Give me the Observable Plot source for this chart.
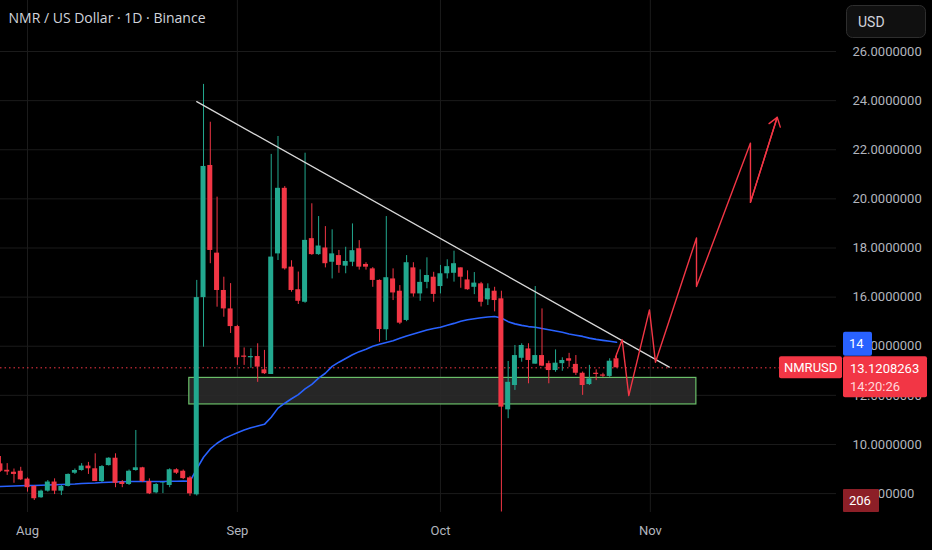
<!DOCTYPE html>
<html>
<head>
<meta charset="utf-8">
<script src="https://cdn.jsdelivr.net/npm/d3@7"></script>
<script src="https://cdn.jsdelivr.net/npm/@observablehq/plot@0.6"></script>
<style>
  html, body { margin: 0; padding: 0; background: #000; }
  #chart { width: 932px; height: 550px; overflow: hidden; }
</style>
</head>
<body>
<div id="chart"></div>
<script>
// ---- data (daily candles starting Jul 28) ----
const firstDay = "2024-07-28";
const opens = [9.21,8.95,8.87,8.91,8.59,8.29,7.83,8.10,8.47,8.10,
8.29,8.83,8.94,9.12,9.01,8.49,9.14,9.44,8.47,8.37,
8.94,9.05,8.49,8.03,8.41,8.33,8.97,8.91,8.64,7.95,
15.98,21.36,17.79,16.27,15.52,14.80,13.60,13.53,13.58,13.04,
12.85,17.76,20.43,17.22,16.30,15.79,18.38,17.73,18.00,17.42,
17.69,17.26,17.42,17.97,17.33,17.15,16.68,14.67,16.74,16.24,
15.05,17.19,16.13,16.60,16.81,16.43,16.95,16.97,17.19,16.70,
16.40,16.54,15.89,16.24,15.93,11.41,12.40,13.51,13.89,13.27,
13.62,13.29,13.01,13.29,13.49,13.26,12.90,12.44,12.90,12.83,
12.77,13.49];
const highs = [9.51,9.22,9.00,9.07,8.64,8.33,8.14,8.53,8.60,8.33,
8.80,9.00,9.22,9.27,9.62,9.14,9.46,9.62,8.53,8.96,
10.57,9.07,8.60,8.41,8.45,9.01,9.01,8.96,8.70,16.68,
24.66,23.12,20.07,16.81,16.55,14.85,13.93,13.90,14.10,13.83,
21.81,22.54,20.50,17.48,17.02,21.86,19.80,19.28,18.87,18.74,
17.90,18.03,18.98,18.30,17.40,17.20,16.70,19.28,17.15,16.47,
17.69,17.40,17.11,17.60,17.01,17.29,17.52,17.87,17.19,17.07,
17.00,16.60,16.54,16.40,16.24,13.38,14.03,14.10,14.10,16.43,
15.52,13.39,13.85,13.53,13.71,13.62,12.95,13.22,13.04,12.90,
13.49,13.69];
const lows = [8.87,8.74,8.42,8.53,8.06,7.72,7.81,8.06,7.96,7.92,
8.27,8.78,8.91,8.78,8.49,8.45,9.12,8.24,8.24,8.33,
8.91,8.45,7.96,7.99,8.00,8.24,8.78,8.57,7.89,7.90,
13.96,17.36,15.59,15.18,14.52,13.22,13.22,13.10,12.53,12.85,
12.85,17.49,17.10,16.20,15.70,15.75,17.70,17.70,17.19,16.74,
16.97,16.95,17.24,17.10,17.10,16.40,14.16,14.23,15.86,14.88,
15.00,16.00,15.83,16.34,15.79,16.13,16.74,16.61,16.36,16.28,
16.10,15.60,15.66,15.40,7.25,11.05,12.20,13.35,12.47,13.27,
13.17,12.47,12.94,12.98,13.14,12.81,12.00,12.40,12.60,12.73,
12.73,13.12];
const closes = [8.91,8.88,8.78,8.56,8.24,7.79,8.10,8.47,8.10,8.29,
8.78,8.94,9.12,9.01,8.49,9.10,9.44,8.42,8.37,8.91,
9.05,8.49,7.99,8.37,8.43,8.97,8.83,8.61,7.99,15.98,
21.32,17.90,16.27,15.52,14.80,13.53,13.55,13.58,13.15,12.88,
17.63,20.43,17.15,16.27,15.83,18.31,17.73,18.08,17.36,17.76,
17.29,17.45,17.89,17.22,17.22,16.68,14.68,16.79,16.17,14.94,
17.40,16.13,16.60,16.88,16.11,16.95,17.24,17.36,16.81,16.30,
16.57,15.79,16.34,15.86,11.52,12.53,13.62,14.03,13.42,13.62,
13.19,13.01,13.31,13.42,13.39,12.90,12.40,12.67,12.85,12.78,
13.39,13.1208263];
const maValues = [8.29,8.30,8.31,8.32,8.33,8.33,8.34,8.35,8.36,8.37,
8.38,8.39,8.41,8.42,8.43,8.45,8.46,8.47,8.48,8.49,
8.49,8.49,8.49,8.49,8.49,8.50,8.50,8.51,8.50,9.01,
9.48,9.82,10.05,10.23,10.36,10.48,10.59,10.68,10.75,10.82,
11.11,11.48,11.68,11.86,12.03,12.26,12.45,12.70,12.90,13.18,
13.35,13.50,13.65,13.78,13.88,14.00,14.08,14.15,14.22,14.32,
14.42,14.50,14.58,14.66,14.72,14.77,14.85,14.93,15.02,15.08,
15.12,15.16,15.19,15.21,15.15,15.00,14.91,14.85,14.80,14.77,
14.72,14.67,14.62,14.57,14.50,14.45,14.40,14.33,14.28,14.24,
14.20,14.16];

// drawings, in days after Aug 1
const refDay = "2024-08-01";
const trendDays = [25, 94.8];
const trendPrices = [23.96, 13.15];
const zoneDays = [23.9, 98.8];
const zonePrices = [11.63, 12.71];
const zigDays = [86.85, 87.84, 88.82, 91.87, 92.76, 98.82, 98.82, 106.79, 106.79, 110.74];
const zigPrices = [13.55, 14.26, 11.99, 15.48, 13.35, 18.41, 16.43, 22.27, 19.86, 23.32];

const monthTicks = ["2024-08-01", "2024-09-01", "2024-10-01", "2024-11-01"];
const priceTicks = [8, 10, 12, 14, 16, 18, 20, 22, 24, 26];
const lastPrice = 13.1208263;
const lastMaLabel = "14";
const volumeLabel = "206";
const timeLabel = "14:20:26";
const symbol = "NMRUSD";
const title = "NMR / US Dollar · 1D · Binance";

// ---- build ----
const DAY = 864e5;
const t0 = Date.parse(firstDay);
const tRef = Date.parse(refDay);
const dayToDate = d => new Date(tRef + d * DAY);

const candles = opens.map((o, i) => ({
  date: new Date(t0 + i * DAY),
  open: o, high: highs[i], low: lows[i], close: closes[i], ma: maValues[i],
  up: closes[i] >= o
}));
const trend = trendDays.map((d, i) => ({date: dayToDate(d), price: trendPrices[i]}));
const zig = zigDays.map((d, i) => ({date: dayToDate(d), price: zigPrices[i]}));
const zone = [{x1: dayToDate(zoneDays[0]), x2: dayToDate(zoneDays[1]), y1: zonePrices[0], y2: zonePrices[1]}];
const arrowSeg = [{x1: zig[zig.length - 2].date, y1: zig[zig.length - 2].price, x2: zig[zig.length - 1].date, y2: zig[zig.length - 1].price}];
const months = monthTicks.map(s => new Date(Date.parse(s)));

const UP = "#22a88f", DOWN = "#f23645";

const plot = Plot.plot({
  width: 932,
  height: 550,
  marginLeft: 0,
  marginRight: 96,
  marginTop: 0,
  marginBottom: 38,
  style: {background: "#000", color: "#b2b5be", fontFamily: "Roboto, sans-serif", fontSize: "13px"},
  x: {type: "utc", domain: [dayToDate(-3.99), dayToDate(119.5)]},
  y: {domain: [7.23, 28.077]},
  marks: [
    Plot.gridY(priceTicks, {stroke: "#1b1b1b", strokeOpacity: 1}),
    Plot.gridX(months, {stroke: "#1b1b1b", strokeOpacity: 1}),
    Plot.axisX(months, {tickSize: 0, tickPadding: 13, tickFormat: d3.utcFormat("%b"), fill: "#b2b5be", fontSize: 13, label: null}),
    Plot.axisY(priceTicks, {anchor: "right", tickSize: 0, tickPadding: 16, tickFormat: d => d.toFixed(7), fill: "#b2b5be", fontSize: 13, label: null}),
    Plot.rect(zone, {x1: "x1", x2: "x2", y1: "y1", y2: "y2", fill: "#2a2a2a", fillOpacity: 0.9, stroke: "#6abf69", strokeWidth: 1.2}),
    Plot.ruleY([lastPrice], {stroke: DOWN, strokeDasharray: "1.5,3", strokeWidth: 1}),
    Plot.line(candles, {x: "date", y: "ma", stroke: "#2962ff", strokeWidth: 1.6}),
    Plot.ruleX(candles, {x: "date", y1: "low", y2: "high", stroke: d => d.up ? UP : DOWN, strokeWidth: 1}),
    Plot.rect(candles, {
      x1: d => new Date(+d.date - 0.37 * DAY),
      x2: d => new Date(+d.date + 0.37 * DAY),
      y1: "open", y2: "close",
      fill: d => d.up ? UP : DOWN
    }),
    Plot.line(trend, {x: "date", y: "price", stroke: "#d8d8d8", strokeWidth: 1.3}),
    Plot.line(zig, {x: "date", y: "price", stroke: DOWN, strokeWidth: 1.4}),
    Plot.arrow(arrowSeg, {x1: "x1", y1: "y1", x2: "x2", y2: "y2", stroke: DOWN, strokeWidth: 1.4, headLength: 11, headAngle: 70}),
    Plot.text([title], {frameAnchor: "top-left", dx: 8, dy: 13, fill: "#d1d4dc", fontSize: 14, fontFamily: "Open Sans, sans-serif", textAnchor: "start", lineAnchor: "top"})
  ]
});

document.getElementById("chart").appendChild(plot);

// price-scale labels drawn on top, positioned through the y scale
const ys = plot.scale("y");
const svg = d3.select(plot);
const g = svg.append("g").attr("font-family", "Roboto, sans-serif").attr("font-size", 13).attr("text-anchor", "start");

function label(x, yTop, w, h, fill, rx) {
  g.append("rect").attr("x", x).attr("y", yTop).attr("width", w).attr("height", h).attr("rx", rx).attr("fill", fill);
}
function txt(x, yMid, s, fill, size) {
  g.append("text").attr("x", x).attr("y", yMid).attr("dy", "0.35em").attr("text-anchor", "start")
    .attr("fill", fill).attr("font-size", size || 13).text(s);
}

const yLast = ys.apply(lastPrice);
const yMa = ys.apply(maValues[maValues.length - 1]);

// MA value label
label(843, yMa - 10, 29, 24, "#2962ff", 2);
txt(849, yMa + 2, lastMaLabel, "#fff");
// symbol label
label(779, yLast - 11, 63, 22, DOWN, 2);
txt(784, yLast, symbol, "#fff");
// last price + countdown
label(843, yLast - 11, 84, 41, DOWN, 2);
txt(850, yLast + 1, lastPrice.toFixed(7), "#fff");
txt(850, yLast + 19, timeLabel, "#ffd7da");
// volume label
label(843, 489, 36, 23, "#8c1f27", 1);
txt(849, 500.5, volumeLabel, "#fff");
// currency button
g.append("rect").attr("x", 846.5).attr("y", 5.5).attr("width", 79).attr("height", 32).attr("rx", 6)
  .attr("fill", "#101010").attr("stroke", "#2e2e2e");
txt(858, 22, "USD", "#d1d4dc", 14);
</script>
</body>
</html>
